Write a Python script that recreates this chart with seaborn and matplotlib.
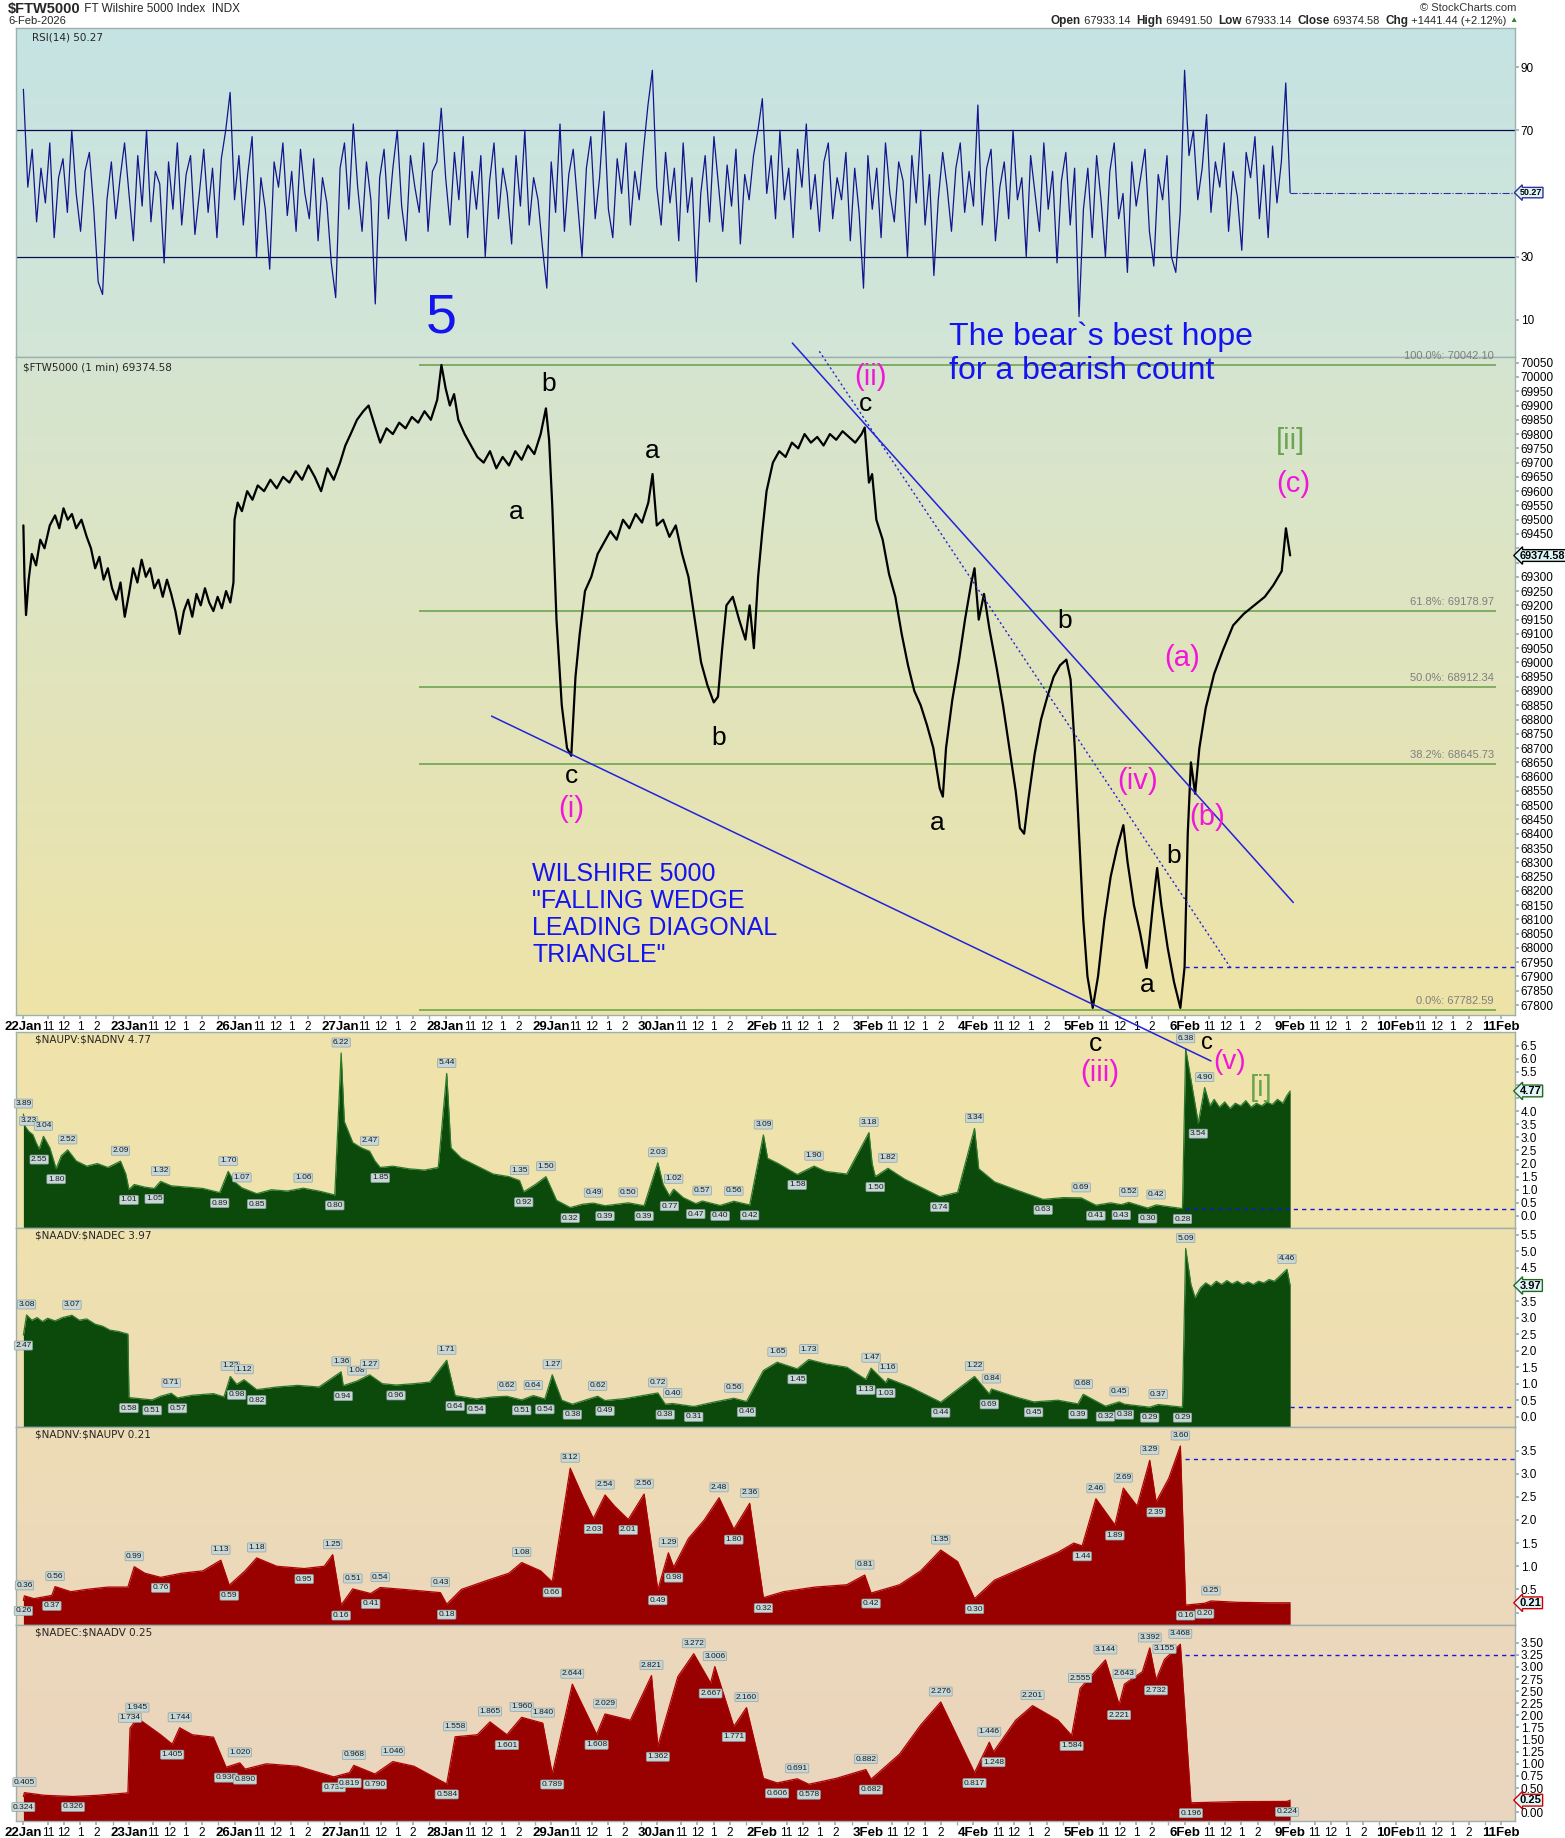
import numpy as np
import pandas as pd
import matplotlib
matplotlib.use("Agg")
import matplotlib.pyplot as plt
import matplotlib.colors as mcolors
import seaborn as sns

sns.set_theme(style="white")
plt.rcParams['font.family'] = ['Liberation Sans', 'DejaVu Sans']

# ------------------------------------------------------------------ data
days = ["22Jan", "23Jan", "26Jan", "27Jan", "28Jan", "29Jan", "30Jan", "2Feb",
        "3Feb", "4Feb", "5Feb", "6Feb", "9Feb", "10Feb", "11Feb"]
hour_labels = ["11", "12", "1", "2"]
hour_minutes = [90, 150, 210, 270]      # minutes after the 9:30 open
session_minutes = 390

rsi_values = [
    83, 52, 64, 41, 58, 47, 66, 36, 55, 61, 44, 70, 50, 38, 57, 63, 45, 22, 18, 48, 60, 42, 55, 66,
    50, 35, 62, 46, 70, 41, 57, 53, 28, 60, 45, 66, 40, 56, 62, 37, 50, 64, 44, 58, 36, 61, 70, 82,
    48, 62, 40, 56, 68, 30, 55, 45, 26, 60, 52, 66, 43, 57, 38, 64, 50, 42, 61, 35, 55, 47, 28, 17,
    58, 66, 45, 72, 52, 38, 60, 48, 15, 55, 64, 42, 58, 70, 46, 35, 62, 52, 44, 66, 38, 57, 60, 77,
    55, 40, 63, 48, 68, 36, 57, 45, 62, 30, 54, 66, 42, 58, 50, 34, 62, 46, 70, 40, 55, 48, 33, 20,
    60, 44, 72, 38, 56, 64, 47, 30, 58, 68, 42, 55, 76, 45, 36, 61, 50, 66, 40, 57, 48, 64, 78, 89,
    52, 40, 63, 47, 58, 35, 66, 44, 55, 22, 50, 62, 41, 68, 53, 38, 59, 46, 64, 34, 56, 48, 62, 70,
    80, 50, 62, 42, 70, 48, 58, 36, 64, 52, 72, 45, 56, 38, 60, 66, 42, 55, 48, 63, 35, 58, 44, 20,
    62, 45, 58, 36, 66, 50, 41, 60, 54, 30, 62, 47, 70, 40, 56, 24, 48, 63, 52, 38, 58, 66, 44, 57,
    46, 78, 40, 58, 64, 35, 52, 60, 42, 70, 48, 55, 30, 62, 50, 38, 66, 45, 57, 28, 54, 63, 40, 58,
    11, 45, 58, 36, 62, 48, 30, 57, 66, 42, 50, 25, 60, 46, 55, 64, 38, 27, 56, 48, 62, 30, 25, 44,
    89, 62, 70, 48, 58, 75, 44, 60, 52, 66, 38, 57, 49, 32, 63, 55, 68, 42, 59, 36, 65, 47, 60, 85,
    50.27]
rsi_samples_per_day = 24
rsi_last = 50.27

price_t = [0.00, 0.01, 0.025, 0.05, 0.08, 0.12, 0.16, 0.20, 0.25, 0.30, 0.34, 0.38, 0.42, 0.46,
           0.50, 0.55, 0.60, 0.64, 0.68, 0.72, 0.76, 0.80, 0.84, 0.88, 0.92, 0.96, 1.00, 1.04,
           1.08, 1.12, 1.16, 1.20, 1.24, 1.28, 1.32, 1.36, 1.40, 1.44, 1.48, 1.52, 1.56, 1.60,
           1.64, 1.68, 1.72, 1.76, 1.80, 1.84, 1.88, 1.92, 1.96, 1.99, 2.00, 2.03, 2.07, 2.12,
           2.17, 2.22, 2.28, 2.34, 2.40, 2.46, 2.52, 2.58, 2.64, 2.70, 2.76, 2.82, 2.88, 2.94,
           3.00, 3.05, 3.10, 3.16, 3.22, 3.27, 3.32, 3.38, 3.44, 3.50, 3.56, 3.62, 3.68, 3.74,
           3.80, 3.86, 3.92, 3.96, 4.00, 4.04, 4.08, 4.12, 4.18, 4.24, 4.30, 4.36, 4.42, 4.48,
           4.54, 4.60, 4.66, 4.72, 4.78, 4.84, 4.90, 4.95, 4.98, 5.01, 5.05, 5.10, 5.15, 5.19,
           5.23, 5.27, 5.32, 5.38, 5.44, 5.50, 5.56, 5.62, 5.68, 5.74, 5.80, 5.86, 5.92, 5.96,
           6.00, 6.06, 6.12, 6.18, 6.24, 6.30, 6.36, 6.42, 6.48, 6.54, 6.58, 6.62, 6.66, 6.72,
           6.78, 6.84, 6.88, 6.92, 6.96, 7.00, 7.04, 7.10, 7.16, 7.22, 7.28, 7.34, 7.40, 7.46,
           7.52, 7.58, 7.64, 7.70, 7.76, 7.82, 7.88, 7.94, 7.97, 8.01, 8.04, 8.08, 8.14, 8.20,
           8.26, 8.32, 8.38, 8.44, 8.50, 8.56, 8.62, 8.68, 8.71, 8.74, 8.80, 8.86, 8.92, 8.98,
           9.01, 9.05, 9.10, 9.15, 9.22, 9.28, 9.34, 9.40, 9.44, 9.48, 9.52, 9.58, 9.64, 9.70,
           9.76, 9.82, 9.88, 9.92, 9.96, 10.00, 10.04, 10.08, 10.13, 10.18, 10.24, 10.30, 10.36,
           10.42, 10.46, 10.52, 10.58, 10.64, 10.70, 10.74, 10.78, 10.84, 10.90, 10.96, 11.00,
           11.03, 11.06, 11.10, 11.14, 11.20, 11.28, 11.36, 11.46, 11.56, 11.66, 11.76, 11.84,
           11.92, 11.96, 11.99, 12.00]
price_v = [69480, 69300, 69166, 69290, 69380, 69340, 69430, 69400, 69480, 69515, 69470, 69540,
           69500, 69520, 69470, 69500, 69440, 69400, 69330, 69370, 69290, 69330, 69260, 69220,
           69280, 69160, 69240, 69330, 69280, 69360, 69300, 69330, 69260, 69290, 69230, 69290,
           69240, 69180, 69100, 69180, 69220, 69160, 69240, 69200, 69260, 69210, 69180, 69230,
           69190, 69250, 69210, 69280, 69500, 69560, 69530, 69600, 69570, 69620, 69600, 69640,
           69610, 69650, 69630, 69670, 69640, 69690, 69650, 69600, 69680, 69640, 69700, 69760,
           69800, 69850, 69880, 69900, 69840, 69770, 69820, 69800, 69840, 69820, 69860, 69840,
           69880, 69850, 69920, 70042, 69960, 69900, 69940, 69850, 69800, 69760, 69720, 69700,
           69740, 69680, 69720, 69690, 69740, 69710, 69760, 69730, 69800, 69890, 69780, 69550,
           69150, 68850, 68700, 68673, 68950, 69100, 69250, 69300, 69380, 69420, 69460, 69430,
           69500, 69470, 69520, 69490, 69560, 69660, 69480, 69500, 69440, 69480, 69380, 69300,
           69150, 69000, 68920, 68860, 68880, 69050, 69200, 69230, 69150, 69080, 69200, 69050,
           69300, 69460, 69600, 69700, 69740, 69720, 69770, 69750, 69800, 69770, 69790, 69760,
           69800, 69780, 69810, 69790, 69770, 69800, 69823, 69630, 69660, 69500, 69430, 69310,
           69230, 69100, 68990, 68900, 68850, 68780, 68700, 68560, 68530, 68700, 68870, 69000,
           69150, 69280, 69330, 69150, 69240, 69120, 68980, 68850, 68700, 68550, 68420, 68400,
           68520, 68680, 68800, 68880, 68950, 68990, 69010, 68940, 68700, 68400, 68100, 67900,
           67790, 67900, 68100, 68250, 68350, 68430, 68300, 68150, 68050, 67930, 68150, 68280,
           68150, 68000, 67880, 67790, 67933, 68400, 68650, 68540, 68700, 68840, 68960, 69040,
           69130, 69170, 69200, 69230, 69270, 69320, 69470, 69400, 69375]
price_last = 69374.58
price_ref_line = 67933.14

fib_pct = ["100.0%", "61.8%", "50.0%", "38.2%", "0.0%"]
fib_levels = [70042.10, 69178.97, 68912.34, 68645.73, 67782.59]

# breadth ratio panels: (time in sessions, value, label kind h/l/'')
naupv = [(0.00, 3.89, 'h'), (0.02, 3.40, ''), (0.05, 3.23, 'h'), (0.09, 3.10, ''), (0.12, 2.80, ''),
         (0.15, 2.55, 'l'), (0.19, 3.04, 'h'), (0.25, 2.60, ''), (0.31, 1.80, 'l'), (0.36, 2.30, ''),
         (0.42, 2.52, 'h'), (0.50, 2.10, ''), (0.60, 1.90, ''), (0.70, 2.00, ''), (0.80, 1.85, ''),
         (0.92, 2.09, 'h'), (0.97, 1.60, ''), (1.00, 1.01, 'l'), (1.05, 1.20, ''), (1.15, 1.10, ''),
         (1.24, 1.05, 'l'), (1.30, 1.32, 'h'), (1.40, 1.15, ''), (1.55, 1.10, ''), (1.70, 1.05, ''),
         (1.86, 0.89, 'l'), (1.94, 1.70, 'h'), (2.00, 1.30, ''), (2.07, 1.07, 'h'), (2.21, 0.85, 'l'),
         (2.35, 1.00, ''), (2.50, 0.95, ''), (2.65, 1.06, 'h'), (2.80, 0.95, ''), (2.95, 0.80, 'l'),
         (3.01, 6.22, 'h'), (3.04, 3.60, ''), (3.12, 2.80, ''), (3.20, 2.60, ''), (3.28, 2.47, 'h'),
         (3.33, 2.10, ''), (3.38, 1.85, 'l'), (3.50, 1.90, ''), (3.65, 1.80, ''), (3.80, 1.75, ''),
         (3.93, 1.85, ''), (4.01, 5.44, 'h'), (4.05, 2.60, ''), (4.15, 2.20, ''), (4.30, 1.90, ''),
         (4.45, 1.60, ''), (4.60, 1.50, ''), (4.70, 1.35, 'h'), (4.74, 0.92, 'l'), (4.85, 1.20, ''),
         (4.95, 1.50, 'h'), (5.05, 0.60, ''), (5.18, 0.32, 'l'), (5.30, 0.45, ''), (5.40, 0.49, 'h'),
         (5.51, 0.39, 'l'), (5.73, 0.50, 'h'), (5.88, 0.39, 'l'), (6.01, 2.03, 'h'), (6.06, 1.20, ''),
         (6.12, 0.77, 'l'), (6.16, 1.02, 'h'), (6.25, 0.70, ''), (6.37, 0.47, 'l'), (6.43, 0.57, 'h'),
         (6.50, 0.50, ''), (6.60, 0.40, 'l'), (6.73, 0.56, 'h'), (6.88, 0.42, 'l'), (7.01, 3.09, 'h'),
         (7.05, 2.20, ''), (7.15, 2.00, ''), (7.33, 1.58, 'l'), (7.49, 1.90, 'h'), (7.60, 1.70, ''),
         (7.80, 1.60, ''), (8.01, 3.18, 'h'), (8.04, 2.00, ''), (8.07, 1.50, 'l'), (8.19, 1.82, 'h'),
         (8.35, 1.40, ''), (8.50, 1.10, ''), (8.68, 0.74, 'l'), (8.85, 0.90, ''), (9.01, 3.34, 'h'),
         (9.05, 1.80, ''), (9.20, 1.30, ''), (9.40, 1.00, ''), (9.66, 0.63, 'l'), (9.85, 0.70, ''),
         (10.02, 0.69, 'h'), (10.16, 0.41, 'l'), (10.30, 0.50, ''), (10.40, 0.43, 'l'),
         (10.47, 0.52, 'h'), (10.65, 0.30, 'l'), (10.73, 0.42, 'h'), (10.98, 0.28, 'l'),
         (11.01, 6.38, 'h'), (11.06, 5.20, ''), (11.13, 3.54, 'l'), (11.19, 4.90, 'h'),
         (11.24, 4.20, ''), (11.28, 4.45, ''), (11.33, 4.15, ''), (11.38, 4.35, ''), (11.43, 4.10, ''),
         (11.48, 4.30, ''), (11.53, 4.20, ''), (11.58, 4.40, ''), (11.63, 4.15, ''), (11.68, 4.30, ''),
         (11.73, 4.20, ''), (11.78, 4.35, ''), (11.83, 4.25, ''), (11.88, 4.45, ''), (11.93, 4.30, ''),
         (11.97, 4.60, ''), (12.00, 4.77, '')]
naadv = [(0.00, 2.47, 'l'), (0.03, 3.08, 'h'), (0.08, 2.92, ''), (0.13, 3.00, ''), (0.18, 2.88, ''),
         (0.23, 2.98, ''), (0.30, 2.90, ''), (0.37, 3.00, ''), (0.46, 3.07, 'h'), (0.53, 2.92, ''),
         (0.60, 2.96, ''), (0.68, 2.80, ''), (0.75, 2.74, ''), (0.82, 2.62, ''), (0.90, 2.58, ''),
         (0.99, 2.50, ''), (1.00, 0.58, 'l'), (1.22, 0.51, 'l'), (1.30, 0.62, ''), (1.40, 0.71, 'h'),
         (1.46, 0.57, 'l'), (1.60, 0.65, ''), (1.80, 0.70, ''), (1.90, 0.60, ''), (1.96, 1.22, 'h'),
         (2.02, 0.98, 'l'), (2.09, 1.12, 'h'), (2.21, 0.82, 'l'), (2.40, 0.90, ''), (2.60, 0.95, ''),
         (2.80, 0.90, ''), (3.01, 1.36, 'h'), (3.03, 0.94, 'l'), (3.16, 1.08, 'h'), (3.28, 1.27, 'h'),
         (3.40, 1.00, ''), (3.53, 0.96, 'l'), (3.70, 1.00, ''), (3.85, 1.05, ''), (4.01, 1.71, 'h'),
         (4.09, 0.64, 'l'), (4.29, 0.54, 'l'), (4.45, 0.60, ''), (4.58, 0.62, 'h'), (4.72, 0.51, 'l'),
         (4.83, 0.64, 'h'), (4.94, 0.54, 'l'), (5.01, 1.27, 'h'), (5.10, 0.50, ''), (5.20, 0.38, 'l'),
         (5.44, 0.62, 'h'), (5.51, 0.49, 'l'), (5.70, 0.55, ''), (6.01, 0.72, 'h'), (6.08, 0.38, 'l'),
         (6.15, 0.40, 'h'), (6.35, 0.31, 'l'), (6.55, 0.45, ''), (6.73, 0.56, 'h'), (6.85, 0.46, 'l'),
         (7.01, 1.40, ''), (7.14, 1.65, 'h'), (7.33, 1.45, 'l'), (7.44, 1.73, 'h'), (7.60, 1.60, ''),
         (7.80, 1.50, ''), (7.98, 1.13, 'l'), (8.03, 1.47, 'h'), (8.17, 1.03, 'l'), (8.19, 1.16, 'h'),
         (8.40, 0.90, ''), (8.69, 0.44, 'l'), (9.01, 1.22, 'h'), (9.15, 0.69, 'l'), (9.17, 0.84, 'h'),
         (9.40, 0.60, ''), (9.57, 0.45, 'l'), (9.80, 0.50, ''), (9.99, 0.39, 'l'), (10.04, 0.68, 'h'),
         (10.25, 0.32, 'l'), (10.38, 0.45, 'h'), (10.43, 0.38, 'l'), (10.67, 0.29, 'l'),
         (10.75, 0.37, 'h'), (10.98, 0.29, 'l'), (11.01, 5.09, 'h'), (11.06, 4.00, ''),
         (11.10, 3.60, ''), (11.15, 3.90, ''), (11.20, 4.05, ''), (11.25, 3.95, ''), (11.30, 4.10, ''),
         (11.35, 4.00, ''), (11.40, 4.12, ''), (11.45, 4.02, ''), (11.50, 4.10, ''), (11.55, 4.00, ''),
         (11.60, 4.08, ''), (11.65, 4.00, ''), (11.70, 4.10, ''), (11.75, 4.05, ''), (11.80, 4.15, ''),
         (11.85, 4.10, ''), (11.90, 4.25, ''), (11.97, 4.46, 'h'), (12.00, 3.97, '')]
nadnv = [(0.00, 0.26, 'l'), (0.01, 0.36, 'h'), (0.10, 0.30, ''), (0.27, 0.37, 'l'), (0.30, 0.56, 'h'),
         (0.45, 0.45, ''), (0.60, 0.50, ''), (0.80, 0.55, ''), (0.99, 0.55, ''), (1.05, 0.99, 'h'),
         (1.15, 0.85, ''), (1.30, 0.76, 'l'), (1.50, 0.85, ''), (1.70, 0.90, ''), (1.87, 1.13, 'h'),
         (1.95, 0.59, 'l'), (2.10, 0.90, ''), (2.21, 1.18, 'h'), (2.40, 1.00, ''), (2.66, 0.95, 'l'),
         (2.85, 1.00, ''), (2.93, 1.25, 'h'), (3.01, 0.16, 'l'), (3.12, 0.51, 'h'), (3.29, 0.41, 'l'),
         (3.38, 0.54, 'h'), (3.60, 0.50, ''), (3.85, 0.45, ''), (3.95, 0.43, 'h'), (4.01, 0.18, 'l'),
         (4.15, 0.50, ''), (4.40, 0.70, ''), (4.60, 0.85, ''), (4.72, 1.08, 'h'), (4.90, 0.90, ''),
         (5.01, 0.66, 'l'), (5.18, 3.12, 'h'), (5.30, 2.50, ''), (5.40, 2.03, 'l'), (5.51, 2.54, 'h'),
         (5.60, 2.30, ''), (5.73, 2.01, 'l'), (5.88, 2.56, 'h'), (6.01, 0.49, 'l'), (6.11, 1.29, 'h'),
         (6.16, 0.98, 'l'), (6.30, 1.60, ''), (6.45, 2.00, ''), (6.59, 2.48, 'h'), (6.73, 1.80, 'l'),
         (6.88, 2.36, 'h'), (7.01, 0.32, 'l'), (7.20, 0.45, ''), (7.50, 0.55, ''), (7.80, 0.60, ''),
         (7.97, 0.81, 'h'), (8.03, 0.42, 'l'), (8.30, 0.60, ''), (8.50, 0.90, ''), (8.69, 1.35, 'h'),
         (8.85, 1.10, ''), (9.01, 0.30, 'l'), (9.20, 0.70, ''), (9.40, 0.90, ''), (9.60, 1.10, ''),
         (9.80, 1.30, ''), (9.95, 1.50, ''), (10.03, 1.44, 'l'), (10.16, 2.46, 'h'), (10.34, 1.89, 'l'),
         (10.42, 2.69, 'h'), (10.55, 2.30, ''), (10.67, 3.29, 'h'), (10.73, 2.39, 'l'),
         (10.85, 2.90, ''), (10.96, 3.60, 'h'), (11.01, 0.16, 'l'), (11.19, 0.20, 'l'),
         (11.25, 0.25, 'h'), (11.50, 0.22, ''), (11.80, 0.21, ''), (12.00, 0.21, '')]
nadec = [(0.00, 0.324, 'l'), (0.01, 0.405, 'h'), (0.20, 0.350, ''), (0.47, 0.326, 'l'),
         (0.70, 0.350, ''), (0.99, 0.400, ''), (1.01, 1.734, 'h'), (1.08, 1.945, 'h'),
         (1.30, 1.600, ''), (1.41, 1.405, 'l'), (1.48, 1.744, 'h'), (1.60, 1.600, ''),
         (1.80, 1.550, ''), (1.92, 0.930, 'l'), (2.05, 1.020, 'h'), (2.10, 0.890, 'l'),
         (2.30, 1.000, ''), (2.60, 0.950, ''), (2.94, 0.730, 'l'), (3.09, 0.819, 'l'),
         (3.13, 0.968, 'h'), (3.33, 0.790, 'l'), (3.50, 1.046, 'h'), (3.70, 0.950, ''),
         (4.01, 0.584, 'l'), (4.09, 1.558, 'h'), (4.30, 1.600, ''), (4.42, 1.865, 'h'),
         (4.58, 1.601, 'l'), (4.72, 1.960, 'h'), (4.92, 1.840, 'h'), (5.01, 0.789, 'l'),
         (5.20, 2.644, 'h'), (5.43, 1.608, 'l'), (5.51, 2.029, 'h'), (5.75, 1.900, ''),
         (5.95, 2.821, 'h'), (6.01, 1.362, 'l'), (6.20, 2.800, ''), (6.35, 3.272, 'h'),
         (6.51, 2.667, 'l'), (6.55, 3.006, 'h'), (6.73, 1.771, 'l'), (6.85, 2.160, 'h'),
         (7.01, 0.700, ''), (7.14, 0.606, 'l'), (7.33, 0.691, 'h'), (7.44, 0.578, 'l'),
         (7.70, 0.700, ''), (7.98, 0.882, 'h'), (8.03, 0.682, 'l'), (8.30, 1.200, ''),
         (8.50, 1.800, ''), (8.69, 2.276, 'h'), (9.01, 0.817, 'l'), (9.15, 1.446, 'h'),
         (9.19, 1.248, 'l'), (9.40, 1.900, ''), (9.56, 2.201, 'h'), (9.80, 1.900, ''),
         (9.93, 1.584, 'l'), (10.01, 2.555, 'h'), (10.25, 3.144, 'h'), (10.38, 2.221, 'l'),
         (10.43, 2.643, 'h'), (10.60, 2.900, ''), (10.67, 3.392, 'h'), (10.73, 2.732, 'l'),
         (10.81, 3.155, 'h'), (10.96, 3.468, 'h'), (11.06, 0.196, 'l'), (11.50, 0.220, ''),
         (11.97, 0.224, 'l'), (12.00, 0.250, '')]

panel_titles = ["\\$NAUPV:\\$NADNV 4.77", "\\$NAADV:\\$NADEC 3.97",
                "\\$NADNV:\\$NAUPV 0.21", "\\$NADEC:\\$NAADV 0.25"]
panel_last = [4.77, 3.97, 0.21, 0.25]
panel_ref = [0.28, 0.30, 3.31, 3.24]

# ------------------------------------------------------------------ layout helpers
W, H = 1565, 1838
fig = plt.figure(figsize=(W / 100, H / 100), dpi=100)
L, R = 16, 1515
XLIM = (-0.07, 14.13)


def add_panel(top, bot, z):
    ax = fig.add_axes([L / W, 1 - bot / H, (R - L) / W, (bot - top) / H], zorder=z)
    ax.set_facecolor('none')
    for s in ax.spines.values():
        s.set_color('#9db0b0')
        s.set_linewidth(1.0)
    return ax


def gradient(ax, c_top, c_bot):
    c1 = np.array(mcolors.to_rgb(c_top))
    c2 = np.array(mcolors.to_rgb(c_bot))
    f = np.linspace(0, 1, 256)[:, None]
    img = (c1 * (1 - f) + c2 * f)[:, None, :]
    ax.imshow(img, extent=[0, 1, 0, 1], transform=ax.transAxes, aspect='auto',
              zorder=0, interpolation='bilinear')


xt, xl, xb = [], [], []
for i, d in enumerate(days):
    xt.append(i); xl.append(d); xb.append(True)
    if i < len(days) - 1:
        for m, hl in zip(hour_minutes, hour_labels):
            xt.append(i + m / session_minutes); xl.append(hl); xb.append(False)
minor_t = [i + 330 / session_minutes for i in range(len(days) - 1)]


def setup_x(ax, show):
    ax.set_xlim(*XLIM)
    ax.set_xticks(xt)
    ax.set_xticks(minor_t, minor=True)
    if show:
        ax.set_xticklabels(xl, fontsize=8.5)
        for lab, b in zip(ax.get_xticklabels(), xb):
            if b:
                lab.set_fontweight('bold')
                lab.set_fontsize(9.5)
        ax.tick_params(axis='x', which='both', direction='out', length=3, pad=1,
                       color='#9db0b0', labelcolor='black', bottom=True)
    else:
        ax.set_xticklabels([])
        ax.tick_params(axis='x', which='both', length=0)


def setup_y(ax, ticks, fmt, skip=()):
    ax.yaxis.tick_right()
    ax.set_yticks(ticks)
    ax.set_yticklabels(['' if any(abs(t - s) < 1e-9 for s in skip) else fmt.format(t)
                        for t in ticks], fontsize=8.5)
    ax.tick_params(axis='y', direction='out', length=3, pad=1, color='#9db0b0',
                   labelcolor='black', right=True, left=False)


def value_box(ax, val, txt, ec, fs=8.0):
    ax.annotate(txt, xy=(1.0, val), xycoords=('axes fraction', 'data'),
                xytext=(3.5, 0), textcoords='offset points', ha='left', va='center',
                fontsize=fs, fontweight='bold', color='black', annotation_clip=False,
                bbox=dict(boxstyle='larrow,pad=0.08', fc='#dff5f7', ec=ec, lw=1.0),
                zorder=20)


# ------------------------------------------------------------------ header
renderer = fig.canvas.get_renderer()


def seq_text(x_px, y_px, pieces, align='left'):
    objs = []
    for s, kw in pieces:
        t = fig.text(0, 1 - y_px / H, s, va='center', ha='left', **kw)
        objs.append((t, t.get_window_extent(renderer=renderer).width))
    start = x_px - sum(w for _, w in objs) if align == 'right' else x_px
    for t, w in objs:
        t.set_x(start / W)
        start += w


seq_text(8, 9, [("\\$FTW5000", dict(fontsize=10.5, fontweight='bold')),
                (" FT Wilshire 5000 Index  INDX", dict(fontsize=8.5))])
fig.text(8 / W, 1 - 21 / H, "6-Feb-2026", fontsize=8, va='center', ha='left')
fig.text(1516 / W, 1 - 8 / H, "\u00a9 StockCharts.com", fontsize=8, va='center', ha='right',
         color='#333333')
hdr = [("Open", dict(fontsize=8.5, fontweight='bold')), (" 67933.14  ", dict(fontsize=8)),
       ("High", dict(fontsize=8.5, fontweight='bold')), (" 69491.50  ", dict(fontsize=8)),
       ("Low", dict(fontsize=8.5, fontweight='bold')), (" 67933.14  ", dict(fontsize=8)),
       ("Close", dict(fontsize=8.5, fontweight='bold')), (" 69374.58  ", dict(fontsize=8)),
       ("Chg", dict(fontsize=8.5, fontweight='bold')), (" +1441.44 (+2.12%) ", dict(fontsize=8)),
       ("\u25b2", dict(fontsize=6, color='#2a8a2a'))]
seq_text(1518, 21, hdr, align='right')

# ------------------------------------------------------------------ RSI panel
ax_rsi = add_panel(28, 357, 1)
gradient(ax_rsi, '#c5e3e3', '#d3e6d6')
rsi_df = pd.DataFrame({'t': np.arange(len(rsi_values)) / rsi_samples_per_day, 'rsi': rsi_values})
sns.lineplot(data=rsi_df, x='t', y='rsi', ax=ax_rsi, color='#14148c', linewidth=0.9,
             estimator=None, sort=False, zorder=3)
ax_rsi.axhline(70, color='#0a0a50', lw=0.9, zorder=2)
ax_rsi.axhline(30, color='#0a0a50', lw=0.9, zorder=2)
ax_rsi.hlines(rsi_last, rsi_df['t'].iloc[-1], XLIM[1], colors='#3030a0', lw=0.8,
              linestyles='dashdot', zorder=2)
ax_rsi.set_ylim(-1.8, 102.4)
setup_x(ax_rsi, False)
setup_y(ax_rsi, [10, 30, 70, 90], "{:.0f}")
ax_rsi.set_xlabel(''); ax_rsi.set_ylabel('')
ax_rsi.text(0.011, 0.985, "RSI(14) 50.27", transform=ax_rsi.transAxes, va='top', ha='left',
            fontsize=7.5, family='DejaVu Sans')
value_box(ax_rsi, rsi_last, "50.27", '#3030a0', fs=6.5)

# ------------------------------------------------------------------ price panel
ax_p = add_panel(357, 1015, 5)
gradient(ax_p, '#d5e5d1', '#eee3a7')
price_df = pd.DataFrame({'t': price_t, 'price': price_v})
sns.lineplot(data=price_df, x='t', y='price', ax=ax_p, color='black', linewidth=1.6,
             estimator=None, sort=False, zorder=4)
ax_p.set_ylim(67765, 70070)
setup_x(ax_p, True)
setup_y(ax_p, list(range(67800, 70051, 50)), "{:.0f}", skip=(69350, 69400))
ax_p.set_xlabel(''); ax_p.set_ylabel('')
for pct, lev in zip(fib_pct, fib_levels):
    ax_p.hlines(lev, 3.75, 13.95, colors='#6ea552', lw=1.2, zorder=2)
    ax_p.text(13.93, lev + 14, f"{pct}: {lev:.2f}", ha='right', va='bottom', fontsize=8,
              color='#7f7f7f', zorder=3)
ax_p.hlines(price_ref_line, 11.0, XLIM[1], colors='#1515e0', lw=1.0, linestyles=(0, (3, 3)),
            zorder=3)
value_box(ax_p, price_last, "69374.58", 'black', fs=7.8)
ax_p.text(0.005, 0.992, "\\$FTW5000 (1 min) 69374.58", transform=ax_p.transAxes, va='top',
          ha='left', fontsize=7.5, family='DejaVu Sans')

# wedge trend lines
ax_p.plot([7.284, 12.03], [70119, 68159], color='#2222d8', lw=1.1, clip_on=False, zorder=6)
ax_p.plot([7.54, 11.44], [70090, 67928], color='#2222d8', lw=1.0, ls=(0, (1.5, 2)),
          clip_on=False, zorder=6)
ax_p.plot([4.435, 11.25], [68812, 67604], color='#2222d8', lw=1.1, clip_on=False, zorder=6)

MAG = '#f018d8'
BLK = 'black'
GRN = '#6aa44e'
BLU = '#1414ee'
wave_labels = [
    ("5", 3.96, 70206, BLU, 40), ("b", 4.98, 69975, BLK, 19), ("a", 4.67, 69528, BLK, 19),
    ("a", 5.96, 69741, BLK, 19), ("c", 7.98, 69905, BLK, 19), ("(ii)", 8.02, 70000, MAG, 21),
    ("b", 6.59, 68734, BLK, 19), ("c", 5.19, 68603, BLK, 19), ("(i)", 5.19, 68487, MAG, 21),
    ("a", 8.66, 68438, BLK, 19), ("b", 9.86, 69145, BLK, 19), ("(iv)", 10.55, 68586, MAG, 21),
    ("b", 10.90, 68323, BLK, 19), ("a", 10.65, 67871, BLK, 19), ("c", 10.16, 67665, BLK, 19),
    ("(iii)", 10.20, 67563, MAG, 21), ("c", 11.21, 67668, BLK, 17), ("(v)", 11.43, 67600, MAG, 20),
    ("(a)", 10.98, 69014, MAG, 21), ("(b)", 11.21, 68459, MAG, 21), ("(c)", 12.03, 69626, MAG, 21),
    ("[ii]", 12.00, 69774, GRN, 21), ("[i]", 11.73, 67509, GRN, 21),
]
for s, t, p, c, fs in wave_labels:
    ax_p.text(t, p, s, color=c, fontsize=fs, ha='center', va='center', clip_on=False, zorder=8)
ax_p.text(8.77, 70193, "The bear`s best hope\nfor a bearish count", color=BLU, fontsize=23,
          ha='left', va='top', linespacing=1.15, clip_on=False, zorder=8)
ax_p.text(4.82, 68300, "WILSHIRE 5000\n\"FALLING WEDGE\nLEADING DIAGONAL\nTRIANGLE\"",
          color=BLU, fontsize=18, ha='left', va='top', linespacing=1.15, zorder=8)

# ------------------------------------------------------------------ breadth panels
panels = [
    (naupv, 1032, 1228, ('#f0e4ab', '#efe2ae'), '#0b4a0b', '#2d7a2d', (-0.46, 7.02),
     np.arange(0, 6.51, 0.5), "{:.1f}", (4.5, 5.0), "{:.2f}", '#1f6a1f'),
    (naadv, 1228, 1427, ('#efe2ae', '#eedcb6'), '#0b4a0b', '#2d7a2d', (-0.31, 5.71),
     np.arange(0, 5.51, 0.5), "{:.1f}", (4.0,), "{:.2f}", '#1f6a1f'),
    (nadnv, 1427, 1625, ('#eedcb6', '#ecd8bb'), '#990000', '#b00000', (-0.27, 4.01),
     np.arange(0, 3.51, 0.5), "{:.1f}", (0.0,), "{:.2f}", '#cc0000'),
    (nadec, 1625, 1821, ('#ecd8bb', '#ead5bf'), '#990000', '#b00000', (-0.18, 3.865),
     np.arange(0, 3.51, 0.25), "{:.2f}", (0.25,), "{:.3f}", '#cc0000'),
]
for k, (ser, top, bot, grad, fillc, linec, ylim, ticks, tfmt, skip, lfmt, boxc) in enumerate(panels):
    ax = add_panel(top, bot, 2)
    gradient(ax, *grad)
    df = pd.DataFrame(ser, columns=['t', 'v', 'kind'])
    ax.fill_between(df['t'], df['v'], ylim[0], color=fillc, lw=0, zorder=2)
    sns.lineplot(data=df, x='t', y='v', ax=ax, color=linec, linewidth=0.9,
                 estimator=None, sort=False, zorder=3)
    ax.set_ylim(*ylim)
    setup_x(ax, k == len(panels) - 1)
    setup_y(ax, ticks, tfmt, skip=skip)
    ax.set_xlabel(''); ax.set_ylabel('')
    ax.hlines(panel_ref[k], 11.0 if k != 1 else 12.0, XLIM[1], colors='#1515e0', lw=1.0,
              linestyles=(0, (3, 3)), zorder=3)
    for _, row in df[df['kind'] != ''].iterrows():
        hi = row['kind'] == 'h'
        ax.annotate(lfmt.format(row['v']), xy=(row['t'], row['v']),
                    xytext=(0, 5 if hi else -5), textcoords='offset points', ha='center',
                    va='bottom' if hi else 'top', fontsize=6, color='#1a1a1a', zorder=6,
                    annotation_clip=False,
                    bbox=dict(boxstyle='round,pad=0.12', fc='#c7d6d6', ec='#8ea3a3', lw=0.5))
    ax.text(0.013, 0.985, panel_titles[k], transform=ax.transAxes, va='top', ha='left',
            fontsize=7.5, family='DejaVu Sans', zorder=7)
    value_box(ax, panel_last[k], f"{panel_last[k]:.2f}", boxc)

fig.savefig("out.png", dpi=100)
